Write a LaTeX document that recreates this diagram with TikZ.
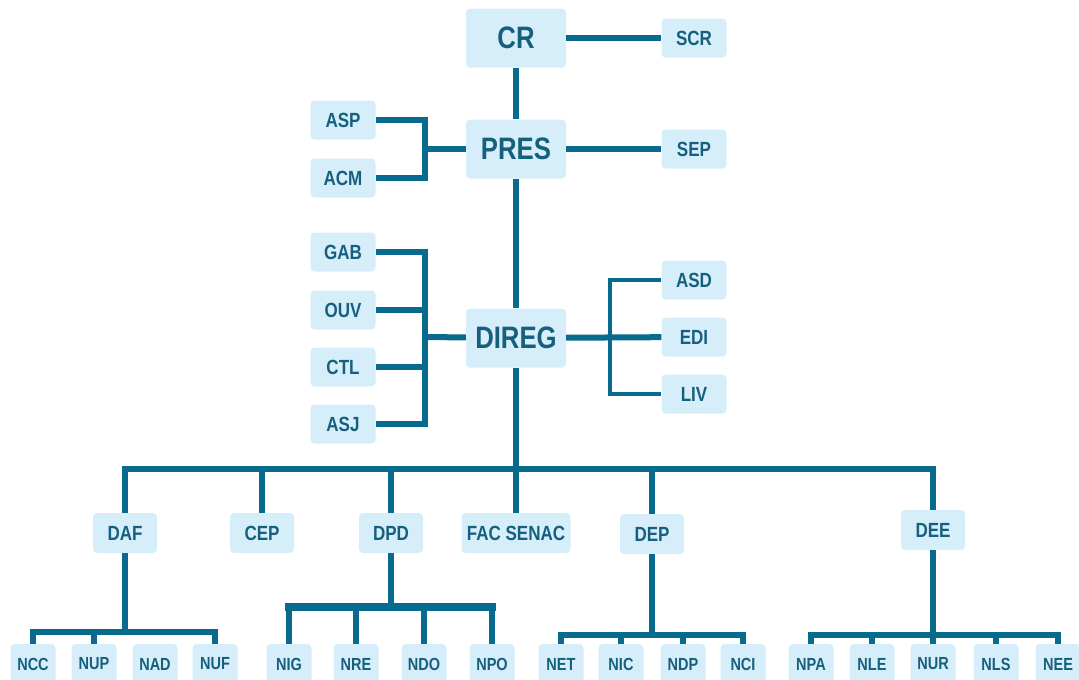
\documentclass[tikz,border=0pt]{standalone}
\usepackage{fontspec}
\setmainfont{Liberation Sans}[FakeStretch=0.83]
\definecolor{orgline}{RGB}{8,106,140}
\definecolor{orgfill}{RGB}{213,238,250}
\definecolor{orgtext}{RGB}{22,96,126}

\begin{document}
\begin{tikzpicture}[x=1pt,y=-1pt,
  box/.style={fill=orgfill, rounded corners=4pt, text=orgtext, inner sep=0pt},
  bigbox/.style={box, minimum width=100pt, minimum height=59pt, font=\bfseries\fontsize{31}{31}\selectfont},
  smallbox/.style={box, minimum width=65pt, minimum height=39pt, font=\bfseries\fontsize{20.5}{20.5}\selectfont},
  midbox/.style={box, minimum width=64pt, minimum height=40pt, font=\bfseries\fontsize{20.5}{20.5}\selectfont},
  lowbox/.style={box, minimum width=45pt, minimum height=40pt, font=\bfseries\fontsize{17.5}{17.5}\selectfont},
  link/.style={draw=orgline, line width=6pt},
  thinlink/.style={draw=orgline, line width=4.5pt},
  buslink/.style={draw=orgline, line width=8pt, line cap=rect}]
  \useasboundingbox (0,0) rectangle (1079,680);
  \clip (0,0) rectangle (1079,680);

  % top
  \node[bigbox] (CR) at (516,38) {CR};
  \node[bigbox] (PRES) at (516,149) {PRES};
  \node[bigbox] (DIREG) at (516,338) {DIREG};
  \node[smallbox] (SCR) at (694,38) {SCR};
  \node[smallbox] (SEP) at (694,149) {SEP};
  \node[smallbox] (ASP) at (343,120) {ASP};
  \node[smallbox] (ACM) at (343,178) {ACM};
  \foreach \n/\y in {GAB/252,OUV/310,CTL/367,ASJ/424}
    \node[smallbox] (\n) at (343,\y) {\n};
  \foreach \n/\y in {ASD/280,EDI/337,LIV/394}
    \node[smallbox] (\n) at (694,\y) {\n};

  % second level
  \foreach \n/\x/\y in {DAF/125/533,CEP/262/533,DPD/391/533,DEP/652/534,DEE/933/530}
    \node[midbox] (\n) at (\x,\y) {\n};
  \node[midbox, minimum width=109pt] (FAC) at (516,533) {FAC SENAC};

  % units
  \foreach \n/\x in {NCC/33,NUP/94,NAD/155,NUF/215,NIG/289,NRE/356,NDO/424,NPO/492,
                     NET/561,NIC/621,NDP/683,NCI/743,NPA/811,NLE/872,NUR/933,NLS/996,NEE/1058}
    \node[lowbox] (\n) at (\x,664) {\n};

  \coordinate (pb) at (425,149);
  \coordinate (db) at (425,337);
  \coordinate (rb) at (610,337);
  \coordinate (bus) at (516,469);
  \coordinate (daf) at (125,632);
  \coordinate (dpd) at (391,607);
  \coordinate (dep) at (652,635);
  \coordinate (dee) at (933,635);

  \path[link] (CR) -- (SCR);
  \path[link] (PRES) -- (SEP);
  \path[link] (CR) -- (PRES);
  \path[link] (PRES) -- (DIREG);
  \path[link] (ASP.east) -| (pb) |- (ACM.east);
  \path[link] (pb) -- (PRES);
  \path[link] (GAB.east) -| (db) |- (ASJ.east);
  \foreach \n in {OUV,CTL}
    \path[link] (\n.east) -- (\n.east -| db);
  \path[link] (db) -- (DIREG);
  \path[thinlink] (ASD.west) -| (rb) |- (LIV.west);
  \path[link] (DIREG) -- (EDI);

  % main bus
  \path[link] (DIREG) -- (FAC);
  \path[link] (DAF.north) |- (bus) -| (DEE.north);
  \foreach \n in {CEP,DPD,DEP}
    \path[link] (\n.north) -- (\n.north |- bus);

  % lower groups
  \path[link] (DAF) -- (daf);
  \path[link] (NCC.north) |- (daf) -| (NUF.north);
  \path[link] (NUP.north) -- (NUP.north |- daf);
  \path[link] (DPD) -- (dpd);
  \path[buslink] (NIG.north |- dpd) -- (NPO.north |- dpd);
  \foreach \n in {NIG,NRE,NDO,NPO}
    \path[link] (\n.north) -- (\n.north |- dpd);
  \path[link] (DEP) -- (dep);
  \path[link] (NET.north) |- (dep) -| (NCI.north);
  \foreach \n in {NIC,NDP}
    \path[link] (\n.north) -- (\n.north |- dep);
  \path[link] (DEE) -- (dee);
  \path[link] (NPA.north) |- (dee) -| (NEE.north);
  \foreach \n in {NLE,NUR,NLS}
    \path[link] (\n.north) -- (\n.north |- dee);
\end{tikzpicture}
\end{document}
